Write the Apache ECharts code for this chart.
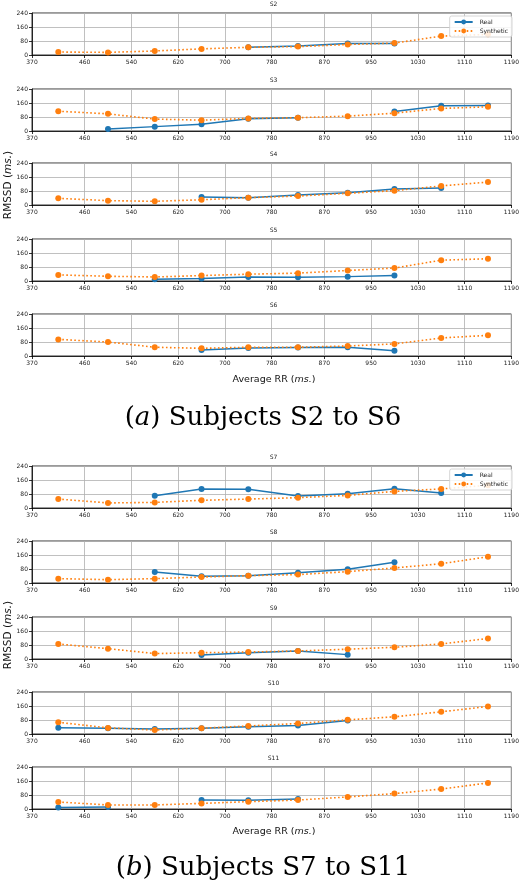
<!DOCTYPE html>
<html>
<head>
<meta charset="utf-8">
<script src="https://cdn.jsdelivr.net/npm/echarts@6/dist/echarts.min.js"></script>
<style>
html,body{margin:0;padding:0;background:#fff;}
#chart{width:522px;height:892px;}
</style>
</head>
<body>
<div id="chart"></div>
<script>
// ---- data ----
const rrEdges = [370, 460, 540, 620, 700, 780, 870, 950, 1030, 1110, 1190];
const rrCenters = [415, 500, 580, 660, 740, 825, 910, 990, 1070, 1150];
const yTicks = [0, 80, 160, 240];
const subjects = ['S2', 'S3', 'S4', 'S5', 'S6', 'S7', 'S8', 'S9', 'S10', 'S11'];

const realS2  = [null, null, null, null, 44, 52, 66, 66, null, null];
const synthS2 = [17, 15, 23, 35, 44, 48, 60, 68, 108, 118];
const realS3  = [null, 11, 25, 38, 70, 76, null, 112, 144, 146];
const synthS3 = [113, 98, 68, 62, 72, 76, 85, 102, 129, 138];
const realS4  = [null, null, null, 46, 42, 57, 70, 91, 97, null];
const synthS4 = [38, 25, 21, 30, 42, 51, 67, 82, 109, 131];
const realS5  = [null, null, 10, 14, 23, 21, 25, 31, null, null];
const synthS5 = [35, 27, 23, 31, 39, 45, 60, 74, 119, 127];
const realS6  = [null, null, null, 34, 46, 48, 50, 30, null, null];
const synthS6 = [95, 80, 50, 44, 50, 50, 57, 69, 103, 118];
const realS7  = [null, null, 70, 109, 107, 69, 82, 110, 86, null];
const synthS7 = [51, 29, 32, 44, 51, 59, 72, 95, 109, 130];
const realS8  = [null, null, 63, 38, 42, 59, 78, 118, null, null];
const synthS8 = [25, 19, 25, 34, 42, 48, 65, 86, 110, 150];
const realS9  = [null, null, null, 23, 36, 46, 25, null, null, null];
const synthS9 = [86, 59, 31, 36, 40, 46, 56, 67, 86, 117];
const realS10  = [36, 33, 29, 33, 42, 48, 77, null, null, null];
const synthS10 = [67, 35, 23, 33, 46, 60, 81, 98, 127, 157];
const realS11  = [8, 11, null, 51, 50, 57, null, null, null, null];
const synthS11 = [40, 23, 23, 32, 42, 51, 69, 88, 114, 149];

const realBySubject = [realS2, realS3, realS4, realS5, realS6, realS7, realS8, realS9, realS10, realS11];
const synthBySubject = [synthS2, synthS3, synthS4, synthS5, synthS6, synthS7, synthS8, synthS9, synthS10, synthS11];

// ---- layout ----
const gridTops = [13, 89, 163, 239, 314, 466, 541, 617, 692, 767];
const gridHeight = 42;
const gridLeft = 32, gridRight = 7;
const BLUE = '#1f77b4', ORANGE = '#ff7f0e';
const FONT = 'DejaVu Sans';

const toPairs = arr => rrCenters.map((x, i) => [x, arr[i] == null ? '-' : arr[i]]);

const grids = [], xAxes = [], yAxes = [], series = [], graphics = [];
subjects.forEach((s, i) => {
  grids.push({
    left: gridLeft, right: gridRight, top: gridTops[i], height: gridHeight,
    show: true, borderColor: '#000', borderWidth: 0.8, backgroundColor: 'transparent'
  });
  xAxes.push({
    type: 'value', gridIndex: i, min: rrEdges[0], max: rrEdges[rrEdges.length - 1],
    axisLine: { show: true, lineStyle: { color: '#000', width: 0.8 } },
    axisTick: { show: true, length: 3, customValues: rrEdges, lineStyle: { color: '#000', width: 0.8 } },
    axisLabel: { show: true, customValues: rrEdges, fontSize: 6, color: '#222', fontFamily: FONT, margin: 4,
      formatter: v => String(v) },
    splitLine: { show: true, lineStyle: { color: '#b0b0b0', width: 0.8 } }
  });
  yAxes.push({
    type: 'value', gridIndex: i, min: yTicks[0], max: yTicks[yTicks.length - 1], interval: yTicks[1] - yTicks[0],
    axisLine: { show: true, lineStyle: { color: '#000', width: 0.8 } },
    axisTick: { show: true, length: 3, lineStyle: { color: '#000', width: 0.8 } },
    axisLabel: { fontSize: 6, color: '#222', fontFamily: FONT, margin: 4, formatter: v => String(v) },
    splitLine: { show: true, lineStyle: { color: '#b0b0b0', width: 0.8 } }
  });
  series.push({
    name: 'Real', type: 'line', xAxisIndex: i, yAxisIndex: i,
    data: toPairs(realBySubject[i]), connectNulls: false,
    symbol: 'circle', symbolSize: 6, showSymbol: true,
    itemStyle: { color: BLUE }, lineStyle: { color: BLUE, width: 1.5 },
    z: 3, animation: false
  });
  series.push({
    name: 'Synthetic', type: 'line', xAxisIndex: i, yAxisIndex: i,
    data: toPairs(synthBySubject[i]), connectNulls: false,
    symbol: 'circle', symbolSize: 6, showSymbol: true,
    itemStyle: { color: ORANGE }, lineStyle: { color: ORANGE, width: 1.6, type: [1.6, 2.4] },
    z: 4, animation: false
  });
  graphics.push({
    type: 'text', x: gridLeft + (522 - gridLeft - gridRight) / 2, y: gridTops[i] - 9,
    style: { text: s, fontSize: 6, fill: '#222', fontFamily: FONT, textAlign: 'center', textVerticalAlign: 'middle' }
  });
});

function axisRich(fs) { return { it: { fontStyle: 'italic', fontSize: fs, fontFamily: FONT, fill: '#111' } }; }
function xTitle(y) {
  return { type: 'text', x: 274, y: y,
    style: { text: 'Average RR ({it|ms.})', rich: axisRich(9.5), fontSize: 9.5, fontFamily: FONT, fill: '#111', textAlign: 'center', textVerticalAlign: 'middle' } };
}
function yTitle(y) {
  return { type: 'text', x: 8, y: y, rotation: Math.PI / 2,
    style: { text: 'RMSSD ({it|ms.})', rich: axisRich(10.5), fontSize: 10.5, fontFamily: FONT, fill: '#111', textAlign: 'center', textVerticalAlign: 'middle' } };
}
function caption(y, letter, text) {
  return { type: 'text', x: 263, y: y,
    style: { text: '({i|' + letter + '}) ' + text,
      rich: { i: { fontStyle: 'italic', fontSize: 26, fontFamily: 'DejaVu Serif', fill: '#000' } },
      fontSize: 26, fontFamily: 'DejaVu Serif', fill: '#000', textAlign: 'center', textVerticalAlign: 'middle' } };
}
graphics.push(xTitle(380), xTitle(832), yTitle(185), yTitle(635));
graphics.push(caption(418, 'a', 'Subjects S2 to S6'), caption(868, 'b', 'Subjects S7 to S11'));

function legendAt(top) {
  return {
    data: ['Real', 'Synthetic'], orient: 'vertical', right: 10, top: top,
    itemWidth: 18, itemHeight: 6, itemGap: 3, padding: [3, 4, 3, 4],
    backgroundColor: 'rgba(255,255,255,0.85)', borderColor: '#cccccc', borderWidth: 0.8, borderRadius: 2,
    textStyle: { fontSize: 6, fontFamily: FONT, color: '#222', padding: [0, 0, 0, 2] },
    selectedMode: false, z: 10
  };
}

const chart = echarts.init(document.getElementById('chart'), null, { renderer: 'canvas' });
chart.setOption({
  animation: false,
  backgroundColor: '#fff',
  grid: grids, xAxis: xAxes, yAxis: yAxes, series: series,
  legend: [legendAt(gridTops[0] + 3), legendAt(gridTops[5] + 3)],
  graphic: graphics
});
</script>
</body>
</html>
